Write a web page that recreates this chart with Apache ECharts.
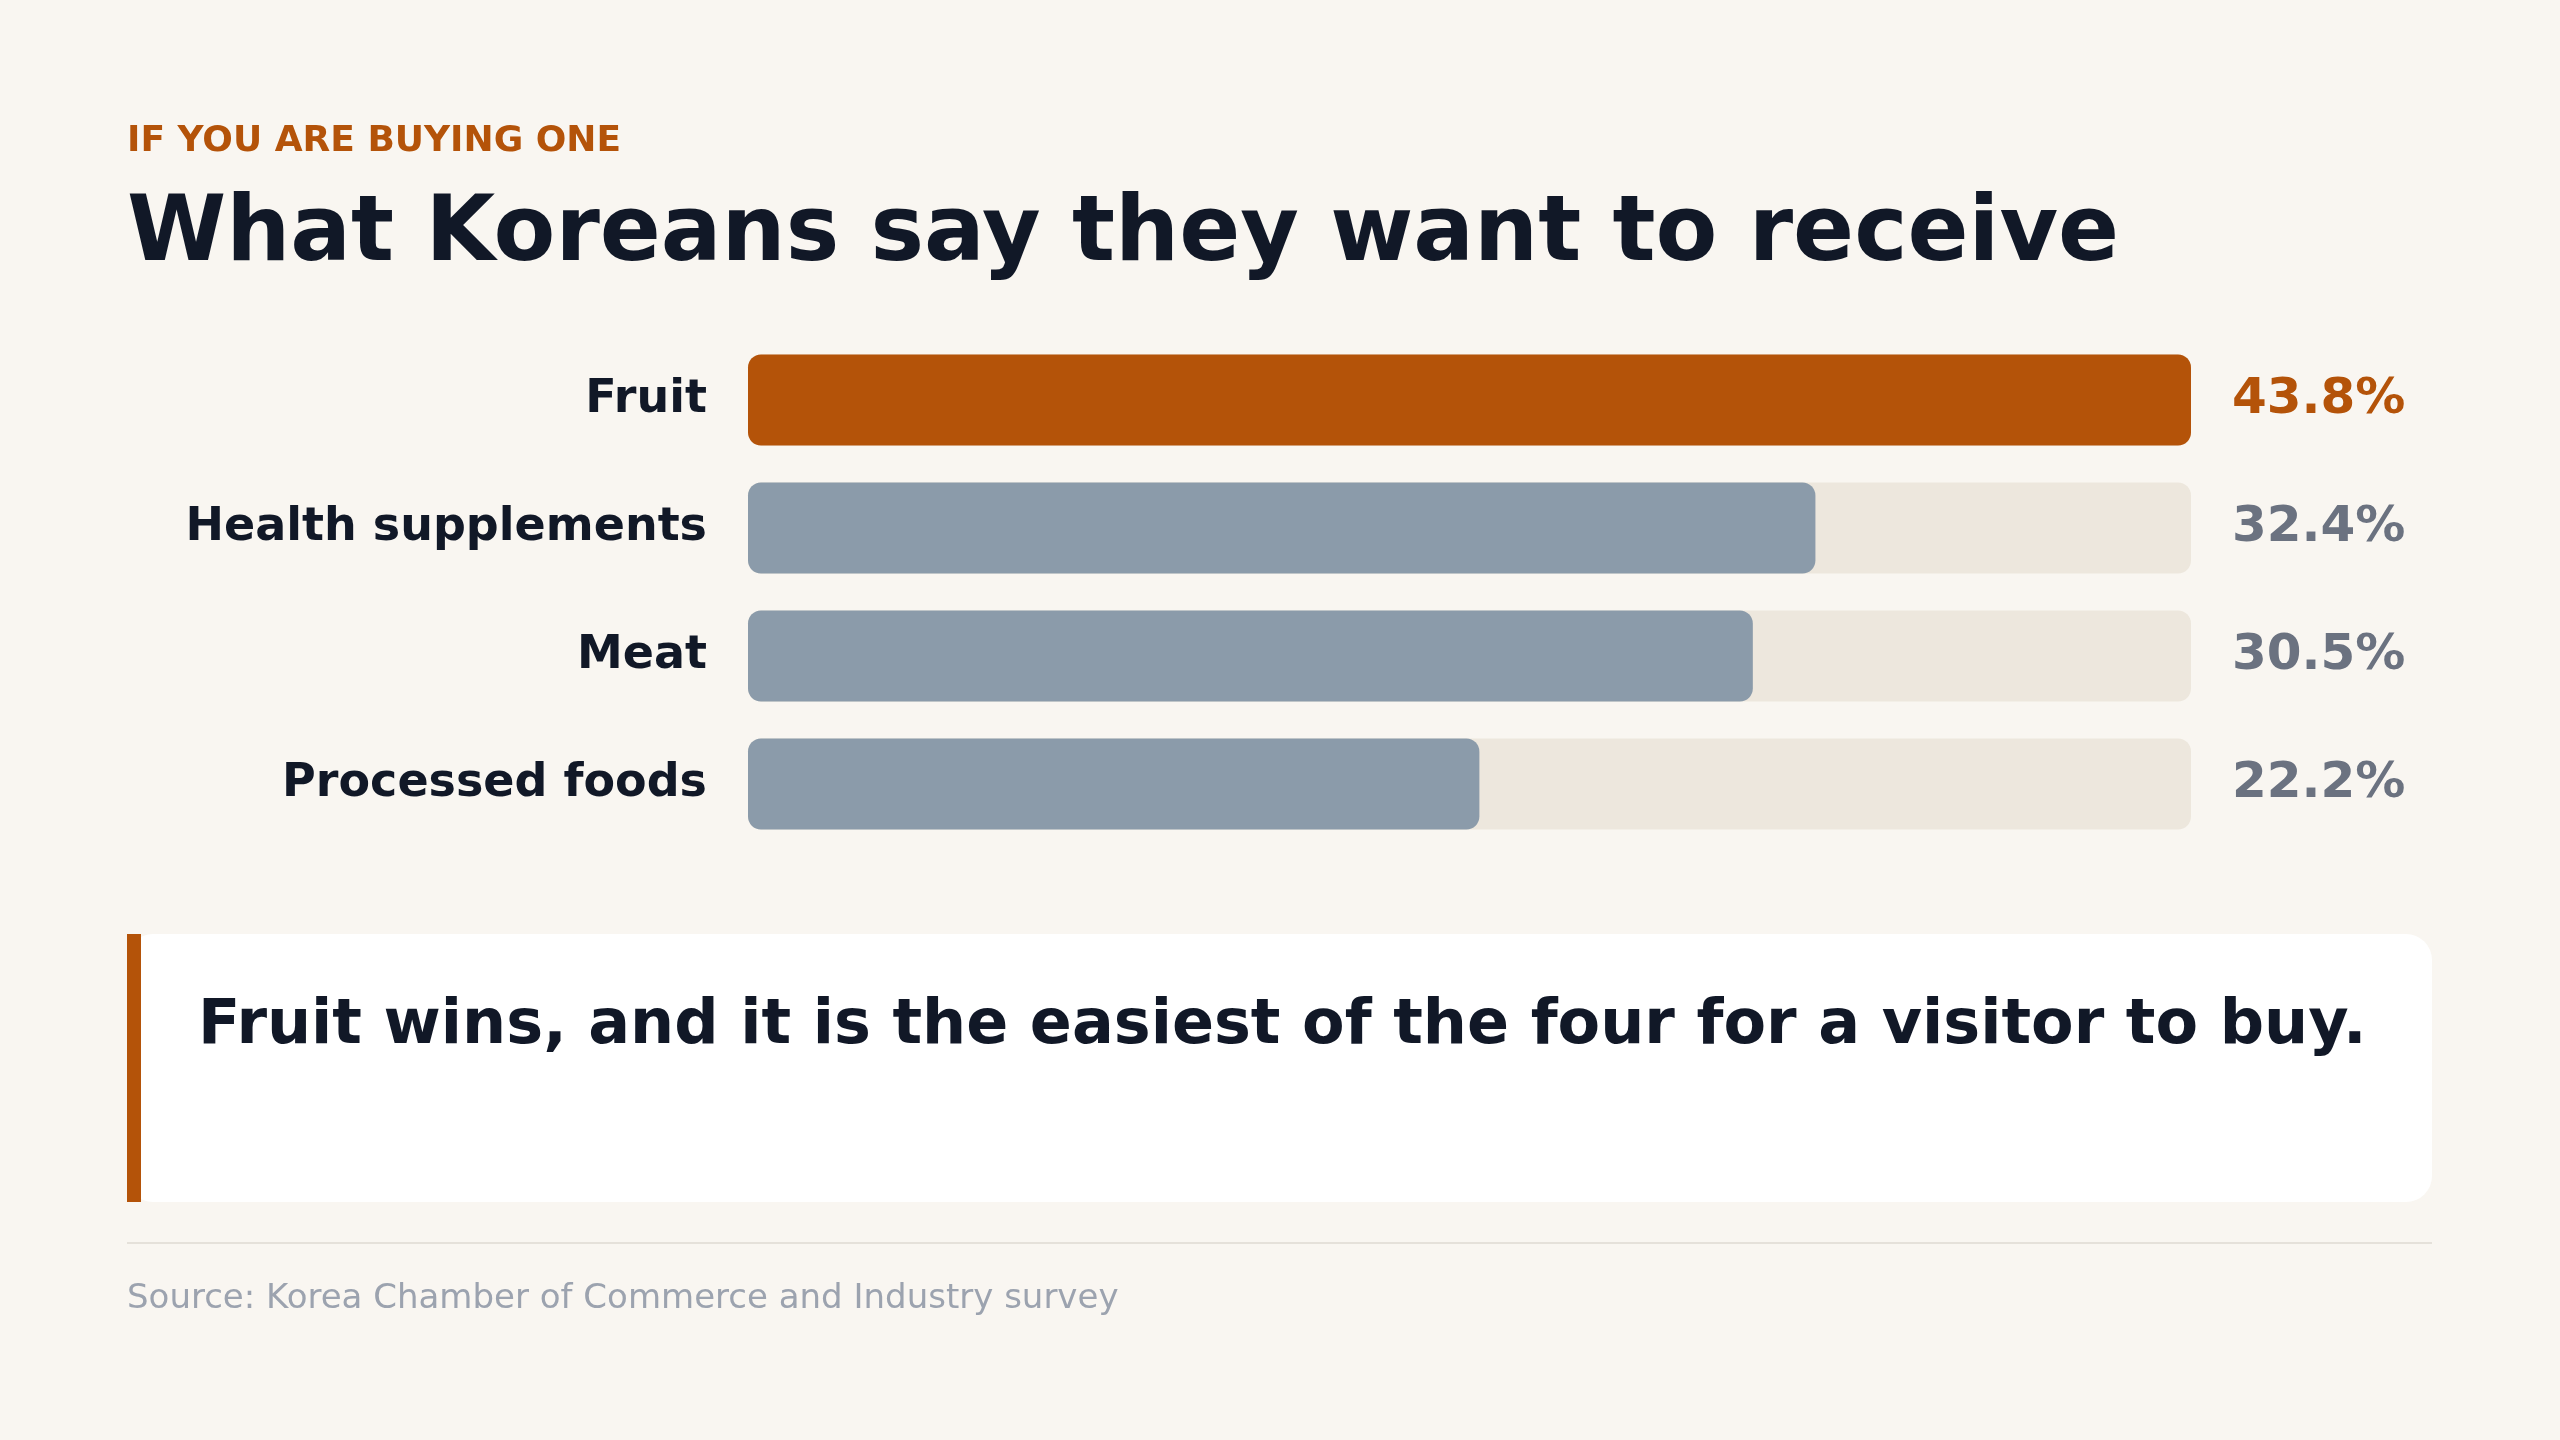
<!DOCTYPE html>
<html><head><meta charset="utf-8">
<script src="https://cdn.jsdelivr.net/npm/echarts@6/dist/echarts.min.js"></script>
<style>html,body{margin:0;padding:0;background:#f9f6f1}#c{width:2560px;height:1440px}</style>
</head><body><div id="c"></div>
<script>
const categories = ['Fruit', 'Health supplements', 'Meat', 'Processed foods'];
const values = [43.8, 32.4, 30.5, 22.2];
const valueLabels = ['43.8%', '32.4%', '30.5%', '22.2%'];
const FONT = 'DejaVu Sans';
const chart = echarts.init(document.getElementById('c'));
chart.setOption({
  backgroundColor: '#f9f6f1',
  animation: false,
  grid: { left: 748, right: 369, top: 336, bottom: 592 },
  xAxis: { type: 'value', min: 0, max: 43.8, show: false },
  yAxis: [
    { type: 'category', data: categories, inverse: true,
      axisLine: { show: false }, axisTick: { show: false },
      axisLabel: { margin: 41, color: '#111827', fontFamily: FONT, fontWeight: 'bold', fontSize: 46 } },
    { type: 'category', data: valueLabels, inverse: true, position: 'right',
      axisLine: { show: false }, axisTick: { show: false },
      axisLabel: { margin: 41, fontFamily: FONT, fontWeight: 'bold', fontSize: 50,
        formatter: (v, i) => i === 0 ? '{a|' + v + '}' : '{b|' + v + '}',
        rich: { a: { color: '#b45309', fontFamily: FONT, fontWeight: 'bold', fontSize: 50 },
                b: { color: '#6b7280', fontFamily: FONT, fontWeight: 'bold', fontSize: 50 } } } }
  ],
  series: [{
    type: 'bar', data: values.map((v, i) => ({ value: v, itemStyle: { color: i === 0 ? '#b45309' : '#8b9baa' } })),
    barWidth: 91,
    itemStyle: { borderRadius: 13 },
    showBackground: true,
    backgroundStyle: { color: '#ede7dd', borderRadius: 13 }
  }],
  graphic: [
    { type: 'text', left: 127, top: 124, style: { text: 'IF YOU ARE BUYING ONE', fill: '#b45309', font: 'bold 36px "DejaVu Sans"' } },
    { type: 'text', left: 127, top: 192, style: { text: 'What Koreans say they want to receive', fill: '#111827', font: 'bold 90px "DejaVu Sans"' } },
    { type: 'rect', shape: { x: 127, y: 934, width: 2305, height: 268, r: 26 }, style: { fill: '#ffffff' } },
    { type: 'rect', shape: { x: 127, y: 934, width: 14, height: 268 }, style: { fill: '#b45309' } },
    { type: 'text', left: 198, top: 984, style: { text: 'Fruit wins, and it is the easiest of the four for a visitor to buy.', width: 2200, overflow: 'break', lineHeight: 86, fill: '#111827', font: 'bold 62px "DejaVu Sans"' } },
    { type: 'rect', shape: { x: 127, y: 1242, width: 2305, height: 2 }, style: { fill: '#e5e1da' } },
    { type: 'text', left: 127, top: 1282, style: { text: 'Source: Korea Chamber of Commerce and Industry survey', fill: '#9ca3af', font: '34px "DejaVu Sans"' } }
  ]
});
</script></body></html>
